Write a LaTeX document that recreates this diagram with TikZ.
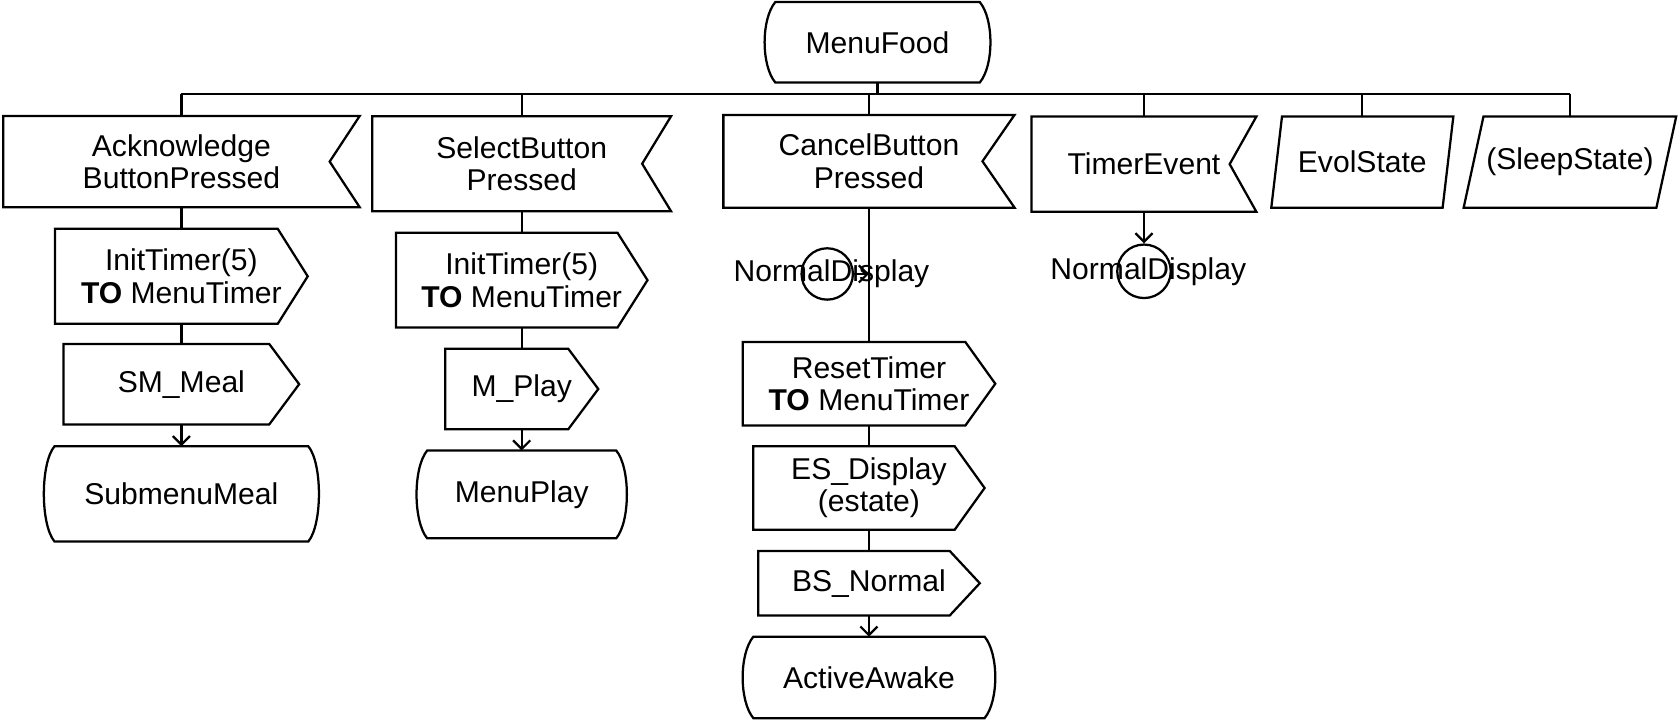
\documentclass[tikz,border=0pt]{standalone}
\usepackage{fontspec}
\setmainfont{Liberation Sans}
\usetikzlibrary{arrows.meta}

\tikzset{
  sdl/.style={inner sep=0pt, align=center, font=\fontsize{8}{8.6}\selectfont},
  sdlconn/.style={circle, draw, minimum size=4.8mm, inner sep=0pt},
  >={Straight Barb[length=0.8mm,width=1.6mm]}
}

\begin{document}
\begin{tikzpicture}[x=1mm, y=-1mm, line width=0.6pt]
	\useasboundingbox (0,0) rectangle (156.8,67.5);
	% state and inputs
	\node[sdl, minimum width=18.9mm, minimum height=7.3mm] (menufood) at (82.0,3.95) {MenuFood};
	\node[sdl, minimum width=33.1mm, minimum height=8.3mm] (ack) at (16.95,15.1) {Acknowledge\\ButtonPressed};
	\node[sdl, minimum width=27.7mm, minimum height=8.66mm] (sel) at (48.75,15.3) {SelectButton\\Pressed};
	\node[sdl, minimum width=27.0mm, minimum height=8.46mm] (can) at (81.2,15.07) {CancelButton\\Pressed};
	\node[sdl, minimum width=20.8mm, minimum height=8.7mm] (tim) at (106.9,15.34) {TimerEvent};
	\node[sdl, minimum width=15.8mm, minimum height=8.3mm] (evol) at (127.3,15.15) {EvolState};
	\node[sdl, minimum width=17.8mm, minimum height=8.3mm] (sleep) at (146.7,15.15) {(SleepState)};
	% acknowledge branch
	\node[sdl, minimum width=23.4mm, minimum height=8.66mm] (ackinit) at (16.95,25.82) {InitTimer(5)\\\textbf{TO} MenuTimer};
	\node[sdl, minimum width=21.8mm, minimum height=7.32mm] (acksm) at (16.95,35.9) {SM\_Meal};
	\node[sdl, minimum width=23.5mm, minimum height=8.7mm] (submeal) at (16.95,46.15) {SubmenuMeal};
	% select branch
	\node[sdl, minimum width=23.3mm, minimum height=8.64mm] (selinit) at (48.75,26.18) {InitTimer(5)\\\textbf{TO} MenuTimer};
	\node[sdl, minimum width=14.1mm, minimum height=7.3mm] (selplay) at (48.75,36.35) {M\_Play};
	\node[sdl, minimum width=17.45mm, minimum height=8.0mm] (menuplay) at (48.75,46.2) {MenuPlay};
	% cancel branch
	\node[sdlconn, label={[sdl, xshift=0.4mm]center:NormalDisplay}] (cancon) at (77.3,25.6) {};
	\node[sdl, minimum width=23.4mm, minimum height=7.6mm] (reset) at (81.2,35.86) {ResetTimer\\\textbf{TO} MenuTimer};
	\node[sdl, minimum width=21.4mm, minimum height=7.6mm] (esdisp) at (81.2,45.6) {ES\_Display\\(estate)};
	\node[sdl, minimum width=20.5mm, minimum height=5.8mm] (bsnorm) at (81.2,54.5) {BS\_Normal};
	\node[sdl, minimum width=21.4mm, minimum height=7.4mm] (active) at (81.2,63.3) {ActiveAwake};
	% timer branch
	\node[sdlconn, minimum size=5mm, label={[sdl, xshift=0.4mm]center:NormalDisplay}] (timcon) at (106.9,25.35) {};

	% outlines
	\foreach \n in {menufood,submeal,menuplay,active}
		\draw (\n.north west) -- (\n.north east)
		.. controls ([xshift=1.33mm,yshift=-1.6mm]\n.north east) and ([xshift=1.33mm,yshift=1.6mm]\n.south east) .. (\n.south east)
		-- (\n.south west)
		.. controls ([xshift=-1.33mm,yshift=1.6mm]\n.south west) and ([xshift=-1.33mm,yshift=-1.6mm]\n.north west) .. (\n.north west) -- cycle;
	\foreach \n/\d in {ack/2.8,sel/2.7,can/3.0,tim/2.5}
		\draw (\n.north west) -- (\n.north east) -- ([xshift=-\d*1mm]\n.east) -- (\n.south east) -- (\n.south west) -- cycle;
	\foreach \n in {ackinit,acksm,selinit,selplay,reset,esdisp,bsnorm}
		\draw (\n.north west) -- ([xshift=-2.8mm]\n.north east) -- (\n.east) -- ([xshift=-2.8mm]\n.south east) -- (\n.south west) -- cycle;
	\foreach \n/\s in {evol/1.0,sleep/1.85}
		\draw ([xshift=\s*0.5mm]\n.north west) -- ([xshift=\s*0.5mm]\n.north east) -- ([xshift=-\s*0.5mm]\n.south east) -- ([xshift=-\s*0.5mm]\n.south west) -- cycle;

	% bus
	\coordinate (bus) at (0,8.8);
	\draw (ack.north |- bus) -- (sleep.north |- bus);
	\draw (menufood.south) -- (menufood.south |- bus);
	\foreach \n in {ack,sel,can,tim,evol,sleep}
		\draw (\n.north |- bus) -- (\n.north);

	% flow lines
	\draw (ack.south) -- (ackinit.north);
	\draw (ackinit.south) -- (acksm.north);
	\draw[->] (acksm.south) -- (submeal.north);
	\draw (sel.south) -- (selinit.north);
	\draw (selinit.south) -- (selplay.north);
	\draw[->] (selplay.south) -- (menuplay.north);
	\draw (can.south) -- (reset.north);
	\draw[->] (cancon.east) -- (cancon.east -| can.south);
	\draw (reset.south) -- (esdisp.north);
	\draw (esdisp.south) -- (bsnorm.north);
	\draw[->] (bsnorm.south) -- (active.north);
	\draw[->] (tim.south) -- (timcon.north);
\end{tikzpicture}
\end{document}
